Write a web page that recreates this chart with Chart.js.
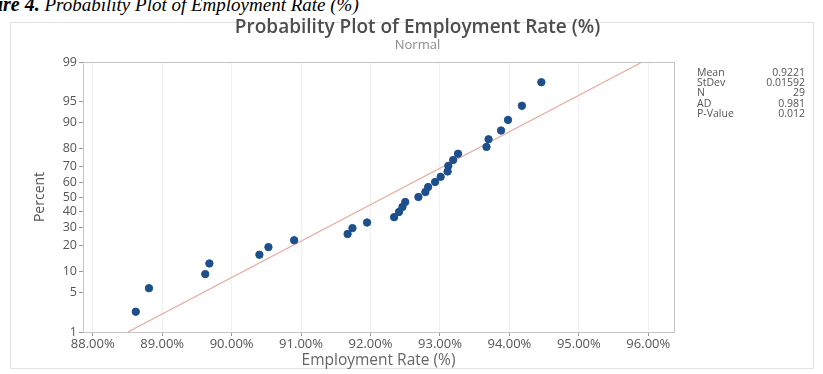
<!DOCTYPE html>
<html>
<head>
<meta charset="utf-8">
<script src="https://cdn.jsdelivr.net/npm/chart.js@4.4.1/dist/chart.umd.min.js"></script>
<style>
  html, body { margin: 0; padding: 0; background: #fff; }
  body { width: 823px; height: 374px; position: relative; overflow: hidden; }
  #caption {
    position: absolute; left: -37px; top: -5px; white-space: nowrap;
    font-family: "Liberation Serif", "DejaVu Serif", serif; font-style: italic;
    font-size: 19px; line-height: 19px; color: #000;
  }
  #caption b { font-weight: bold; font-size: 20px; }
  #frame {
    position: absolute; left: 10px; top: 22px; width: 804px; height: 347px;
    border: 1px solid #e2e2e2; box-sizing: border-box;
  }
  #chartWrap { position: absolute; left: 0; top: 0; width: 823px; height: 374px; }
  #title {
    position: absolute; left: 0; width: 835px; top: 16px; text-align: center;
    font-family: "Open Sans", sans-serif; font-weight: 600; font-size: 19px;
    line-height: 21px; color: #4d4d4d;
  }
  #subtitle {
    position: absolute; left: 0; width: 835px; top: 37px; text-align: center;
    font-family: "Open Sans", sans-serif; font-size: 13px; line-height: 14px; color: #8a8a8a;
  }
  #stats {
    position: absolute; left: 697px; top: 67px; width: 108px;
    font-family: "Open Sans", sans-serif; font-size: 10.5px; line-height: 10.2px; color: #555;
  }
  #stats .row { display: flex; justify-content: space-between; }
</style>
</head>
<body>
<div id="caption"><b>Figure 4.</b> Probability Plot of Employment Rate (%)</div>
<div id="frame"></div>
<div id="chartWrap"><canvas id="chart" width="823" height="374"></canvas></div>
<div id="title">Probability Plot of Employment Rate (%)</div>
<div id="subtitle">Normal</div>
<div id="stats"></div>
<script>
// Observed employment rates (%) in ascending order
const employmentRate = [
  88.62, 88.81, 89.62, 89.68, 90.40, 90.53, 90.90, 91.67, 91.74, 91.95,
  92.34, 92.41, 92.46, 92.50, 92.69, 92.79, 92.83, 92.93, 93.01, 93.11,
  93.12, 93.19, 93.26, 93.67, 93.70, 93.88, 93.98, 94.18, 94.46
];
// Cumulative percent for each ranked observation
const cumulativePercent = [
  2.4, 5.8, 9.2, 12.6, 16.0, 19.4, 22.8, 26.2, 29.6, 33.0,
  36.4, 39.8, 43.2, 46.6, 50.0, 53.4, 56.8, 60.2, 63.6, 67.0,
  70.4, 73.8, 77.2, 80.6, 84.0, 87.4, 90.8, 94.2, 97.6
];
// Axis tick labels
const percentTicks = [1, 5, 10, 20, 30, 40, 50, 60, 70, 80, 90, 95, 99];
const rateTicks = [88, 89, 90, 91, 92, 93, 94, 95, 96];
// Summary statistics table
const statNames = ['Mean', 'StDev', 'N', 'AD', 'P-Value'];
const statValues = ['0.9221', '0.01592', '29', '0.981', '0.012'];

// Inverse standard normal CDF (Acklam's rational approximation)
function probit(p) {
  const a = [-3.969683028665376e+01, 2.209460984245205e+02, -2.759285104469687e+02,
             1.383577518672690e+02, -3.066479806614716e+01, 2.506628277459239e+00];
  const b = [-5.447609879822406e+01, 1.615858368580409e+02, -1.556989798598866e+02,
             6.680131188771972e+01, -1.328068155288572e+01];
  const c = [-7.784894002430293e-03, -3.223964580411365e-01, -2.400758277161838e+00,
             -2.549732539343734e+00, 4.374664141464968e+00, 2.938163982698783e+00];
  const d = [7.784695709041462e-03, 3.224671290700398e-01, 2.445134137142996e+00,
             3.754408661907416e+00];
  const pl = 0.02425, ph = 1 - pl;
  let q, r;
  if (p < pl) {
    q = Math.sqrt(-2 * Math.log(p));
    return (((((c[0]*q+c[1])*q+c[2])*q+c[3])*q+c[4])*q+c[5]) /
           ((((d[0]*q+d[1])*q+d[2])*q+d[3])*q+1);
  }
  if (p <= ph) {
    q = p - 0.5; r = q * q;
    return (((((a[0]*r+a[1])*r+a[2])*r+a[3])*r+a[4])*r+a[5])*q /
           (((((b[0]*r+b[1])*r+b[2])*r+b[3])*r+b[4])*r+1);
  }
  q = Math.sqrt(-2 * Math.log(1 - p));
  return -(((((c[0]*q+c[1])*q+c[2])*q+c[3])*q+c[4])*q+c[5]) /
          ((((d[0]*q+d[1])*q+d[2])*q+d[3])*q+1);
}

// Stats table
const statsEl = document.getElementById('stats');
statNames.forEach((n, i) => {
  const row = document.createElement('div');
  row.className = 'row';
  row.innerHTML = '<span>' + n + '</span><span>' + statValues[i] + '</span>';
  statsEl.appendChild(row);
});

const zLow = probit(percentTicks[0] / 100);
const zHigh = probit(percentTicks[percentTicks.length - 1] / 100);

// Fitted normal line from the reported mean and standard deviation
const mean = parseFloat(statValues[0]) * 100;
const sd = parseFloat(statValues[1]) * 100;
const fitLine = [
  { x: mean + zLow * sd, y: zLow },
  { x: mean + zHigh * sd, y: zHigh }
];

const points = employmentRate.map((x, i) => ({ x: x, y: probit(cumulativePercent[i] / 100) }));

// Light border around the whole data region
const plotFrame = {
  id: 'plotFrame',
  afterDraw(chart) {
    const { ctx, chartArea: a } = chart;
    ctx.save();
    ctx.strokeStyle = '#c4c4c4';
    ctx.lineWidth = 1;
    ctx.strokeRect(a.left + 0.5, a.top + 0.5, a.right - a.left, a.bottom - a.top);
    ctx.restore();
  }
};

const xTickFont = { family: "'Open Sans', sans-serif", size: 13 };
const yTickFont = { family: "'Open Sans', sans-serif", size: 12.5 };

new Chart(document.getElementById('chart'), {
  type: 'scatter',
  data: {
    datasets: [
      {
        label: 'Employment Rate',
        data: points,
        backgroundColor: '#1d4f8c',
        borderColor: '#1d4f8c',
        pointRadius: 3.7,
        pointHoverRadius: 3.7,
        order: 1
      },
      {
        label: 'Normal fit',
        data: fitLine,
        showLine: true,
        borderColor: '#eaa89c',
        borderWidth: 1.2,
        pointRadius: 0,
        fill: false,
        order: 2
      }
    ]
  },
  plugins: [plotFrame],
  options: {
    responsive: false,
    animation: false,
    events: [],
    layout: { padding: { left: 28, right: 149, top: 62, bottom: 0 } },
    plugins: { legend: { display: false }, tooltip: { enabled: false }, title: { display: false } },
    scales: {
      x: {
        type: 'linear',
        min: 87.86,
        max: 96.37,
        afterBuildTicks: s => { s.ticks = rateTicks.map(v => ({ value: v })); },
        afterFit: s => { s.height = 42; },
        ticks: {
          autoSkip: false, maxRotation: 0, padding: 0,
          color: '#555', font: xTickFont,
          callback: v => v.toFixed(2) + '%'
        },
        grid: { color: '#f1f1f1', tickColor: '#9a9a9a', tickLength: 4, drawOnChartArea: true },
        border: { color: '#a8a8a8' },
        title: {
          display: true, text: 'Employment Rate (%)', color: '#666',
          font: { family: "'Open Sans', sans-serif", size: 15.5 },
          padding: { top: 0, bottom: 4 }
        }
      },
      y: {
        type: 'linear',
        min: zLow,
        max: zHigh,
        afterBuildTicks: s => { s.ticks = percentTicks.map(p => ({ value: probit(p / 100) })); },
        afterFit: s => { s.width = 55; },
        ticks: {
          autoSkip: false, padding: 2, color: '#555', font: yTickFont,
          callback: (v, i) => percentTicks[i]
        },
        grid: { drawOnChartArea: false, tickColor: '#9a9a9a', tickLength: 4 },
        border: { color: '#a8a8a8' },
        title: {
          display: true, text: 'Percent', color: '#555',
          font: { family: "'Open Sans', sans-serif", size: 14 },
          padding: { top: 4, bottom: 0 }
        }
      }
    }
  }
});
</script>
</body>
</html>
